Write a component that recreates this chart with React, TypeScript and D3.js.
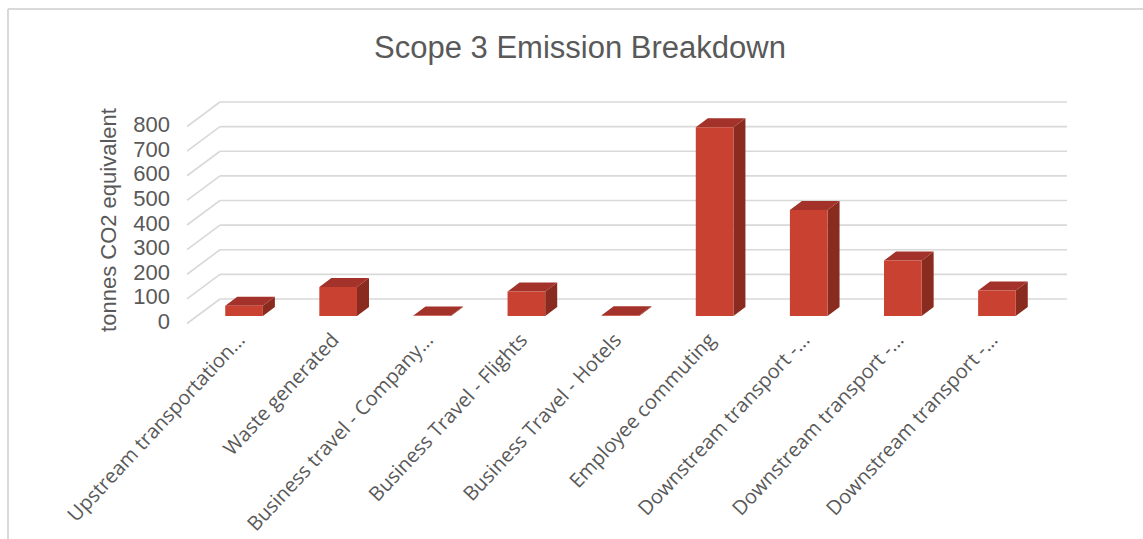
import React from "react";
import * as d3 from "d3";

const categories = [
  "Upstream transportation...",
  "Waste generated",
  "Business travel - Company...",
  "Business Travel - Flights",
  "Business Travel - Hotels",
  "Employee commuting",
  "Downstream transport -...",
  "Downstream transport -...",
  "Downstream transport -...",
];
const values = [42, 118, 2, 99, 3, 766, 430, 225, 104];
const yTicks = [0, 100, 200, 300, 400, 500, 600, 700, 800];
const title = "Scope 3 Emission Breakdown";
const yTitle = "tonnes CO2 equivalent";

const W = 1143;
const H = 539;
const FONT = "'Liberation Sans', Arial, sans-serif";
const LABEL_FONT = "'Open Sans', 'Liberation Sans', Arial, sans-serif";
const TXT = "#595959";
const GRID = "#d9d9d9";

export default function App() {
  // geometry of the oblique 3D frame
  const backLeft = 220;
  const backRight = 1067;
  const backBase = 299;
  const depthX = 33;
  const depthY = 24.5;
  const barBase = 316;
  const barDX = 12;
  const barDY = -9;

  const h = d3.scaleLinear().domain([0, 800]).range([0, 197]);
  const x = d3
    .scaleBand<number>()
    .domain(d3.range(categories.length))
    .range([197, 1044])
    .paddingInner(0.6)
    .paddingOuter(0.3);
  const bw = x.bandwidth();

  return (
    <svg
      width={W}
      height={H}
      style={{ position: "absolute", left: 0, top: 0, background: "#fff" }}
    >
      <rect x={0} y={0} width={W} height={H} fill="#fff" />
      {/* outer border */}
      <line x1={8} y1={9} x2={W} y2={9} stroke={GRID} strokeWidth={2} />
      <line x1={8} y1={9} x2={8} y2={H} stroke={GRID} strokeWidth={2} />

      <text
        x={580}
        y={58}
        textAnchor="middle"
        fontFamily={FONT}
        fontSize={31}
        fill={TXT}
      >
        {title}
      </text>

      {/* gridlines */}
      {yTicks.map((t) => {
        const yb = backBase - h(t);
        return (
          <g key={t}>
            <line x1={backLeft} y1={yb} x2={backRight} y2={yb} stroke={GRID} strokeWidth={1.6} />
            <line
              x1={backLeft - depthX}
              y1={yb + depthY}
              x2={backLeft}
              y2={yb}
              stroke={GRID}
              strokeWidth={1.6}
            />
            <text
              x={170}
              y={yb + depthY - 2}
              textAnchor="end"
              dominantBaseline="central"
              fontFamily={FONT}
              fontSize={22}
              fill={TXT}
            >
              {t}
            </text>
          </g>
        );
      })}

      <text
        transform={`translate(116,220) rotate(-90)`}
        textAnchor="middle"
        fontFamily={FONT}
        fontSize={22}
        fill={TXT}
      >
        {yTitle}
      </text>

      {/* bars */}
      {values.map((v, i) => {
        const x0 = x(i)!;
        const x1 = x0 + bw;
        const yTop = barBase - h(v);
        const front = `M${x0},${barBase}L${x1},${barBase}L${x1},${yTop}L${x0},${yTop}Z`;
        const side = `M${x1},${barBase}L${x1 + barDX},${barBase + barDY}L${x1 + barDX},${yTop + barDY}L${x1},${yTop}Z`;
        const top = `M${x0},${yTop}L${x1},${yTop}L${x1 + barDX},${yTop + barDY}L${x0 + barDX},${yTop + barDY}Z`;
        return (
          <g key={i}>
            <path d={side} fill="#8a2b20" />
            <path d={top} fill="#a3332a" />
            <path d={front} fill="#c94131" />
          </g>
        );
      })}

      {/* category labels */}
      {categories.map((c, i) => {
        const cx = x(i)! + bw / 2 + 2;
        return (
          <text
            key={i}
            transform={`translate(${cx},341) rotate(-47)`}
            textAnchor="end"
            fontFamily={LABEL_FONT}
            fontSize={20}
            fill={TXT}
          >
            {c}
          </text>
        );
      })}
    </svg>
  );
}
